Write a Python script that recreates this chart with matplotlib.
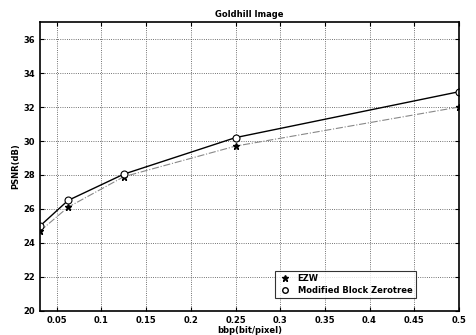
import matplotlib
matplotlib.use("Agg")
import matplotlib.pyplot as plt
from matplotlib.lines import Line2D

# bit rates (bpp) and PSNR values
bpp = [0.03125, 0.0625, 0.125, 0.25, 0.5]
psnr_ezw = [24.7, 26.1, 27.9, 29.7, 32.0]
psnr_mbz = [25.0, 26.5, 28.05, 30.2, 32.9]

xticks = [0.05, 0.1, 0.15, 0.2, 0.25, 0.3, 0.35, 0.4, 0.45, 0.5]
xticklabels = ['0.05', '0.1', '0.15', '0.2', '0.25', '0.3', '0.35', '0.4', '0.45', '0.5']
yticks = [20, 22, 24, 26, 28, 30, 32, 34, 36]

fig = plt.figure(figsize=(4.77, 3.35), dpi=100)
ax = fig.add_axes([0.084, 0.072, 0.878, 0.862])

ax.plot(bpp, psnr_ezw, color='#888888', linestyle='-.', linewidth=0.8)
ax.plot(bpp, psnr_ezw, linestyle='none', marker='*', color='black', markersize=5)
ax.plot(bpp, psnr_mbz, color='black', linestyle='-', linewidth=1.0)
ax.plot(bpp, psnr_mbz, linestyle='none', marker='o', markerfacecolor='white',
        markeredgecolor='black', markersize=5, markeredgewidth=0.8)

ax.set_xlim(0.03125, 0.5)
ax.set_ylim(20, 37)
ax.set_xticks(xticks)
ax.set_xticklabels(xticklabels)
ax.set_yticks(yticks)
ax.tick_params(direction='in', labelsize=6, length=3, width=0.8, top=True, right=True)
for lab in ax.get_xticklabels() + ax.get_yticklabels():
    lab.set_fontweight('bold')

ax.grid(True, linestyle=':', color='#444444', linewidth=0.6)
for s in ax.spines.values():
    s.set_linewidth(1.2)

ax.set_title("Goldhill Image", fontsize=6, fontweight='bold', pad=4)
ax.set_xlabel("bbp(bit/pixel)", fontsize=6, fontweight='bold', labelpad=1)
ax.set_ylabel("PSNR(dB)", fontsize=6, fontweight='bold', labelpad=2)

handles = [
    Line2D([], [], linestyle='none', marker='*', color='black', markersize=5),
    Line2D([], [], linestyle='none', marker='o', markerfacecolor='white',
           markeredgecolor='black', markersize=4),
]
leg = ax.legend(handles, ["EZW", "Modified Block Zerotree"], loc='lower right',
                bbox_to_anchor=(0.907, 0.03), fontsize=6, frameon=True,
                fancybox=False, handlelength=1.5, borderpad=0.4, labelspacing=0.3)
leg.get_frame().set_edgecolor('black')
leg.get_frame().set_linewidth(0.8)
for t in leg.get_texts():
    t.set_fontweight('bold')

fig.savefig("out.png", dpi=100)
